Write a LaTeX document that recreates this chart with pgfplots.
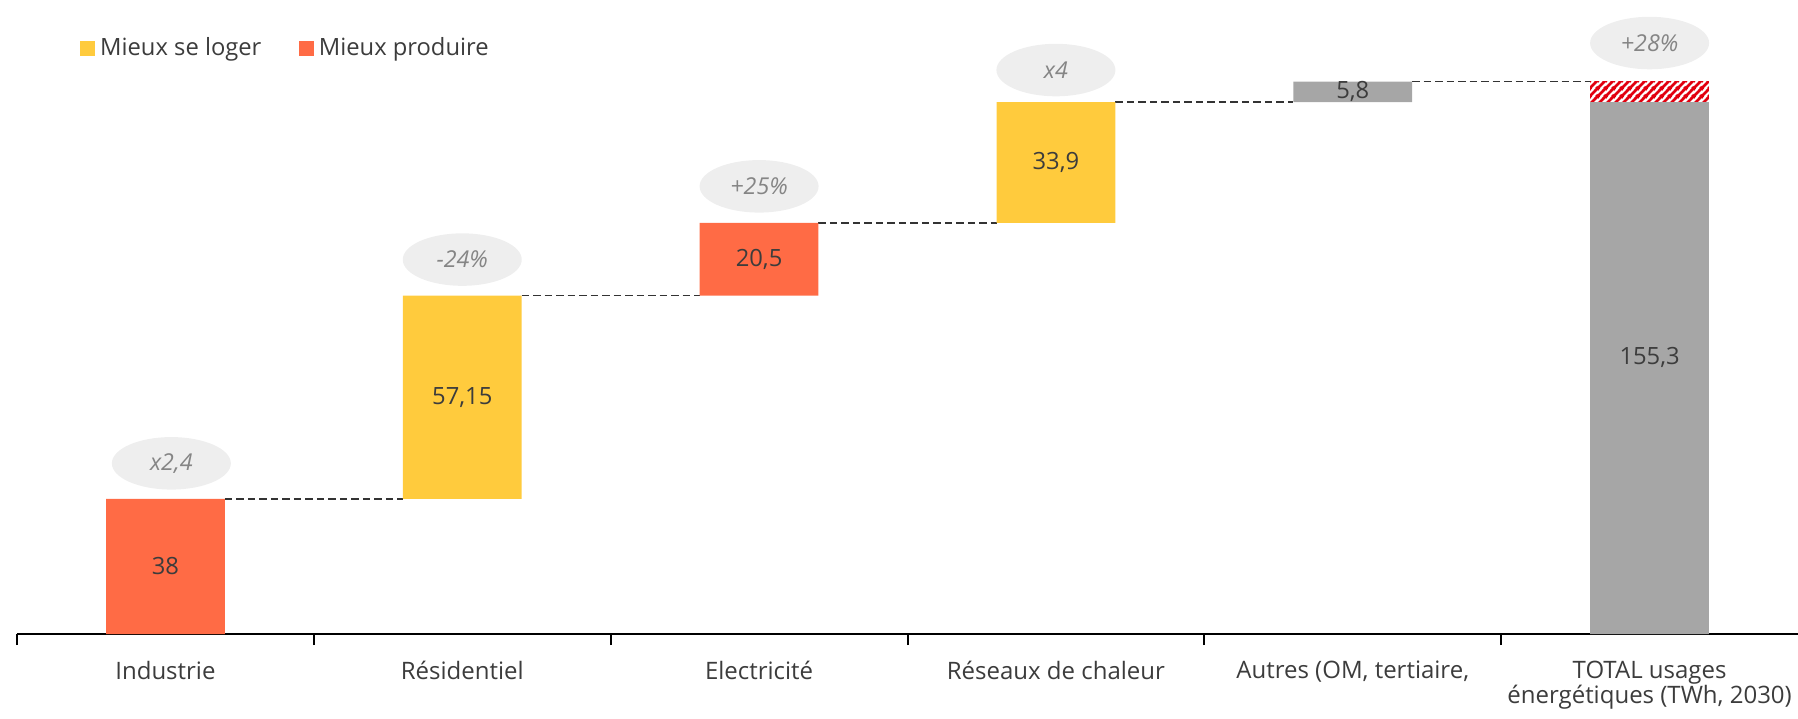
\documentclass[border=0pt]{standalone}
\usepackage{pgfplots}
\pgfplotsset{compat=1.18}
\usepackage{fontspec}
\setmainfont{Open Sans}
\usetikzlibrary{patterns,shapes.geometric}
\definecolor{cyel}{HTML}{FFCB3D}
\definecolor{cred}{HTML}{FF6B45}
\definecolor{cgrey}{HTML}{A6A6A6}
\definecolor{cell}{HTML}{EEEEEE}
\definecolor{chatch}{HTML}{E1000F}
\definecolor{ctxt}{HTML}{3C3C3C}
\definecolor{cdash}{HTML}{333333}
\definecolor{cit}{HTML}{858585}
\pgfdeclarepatternformonly{fatstripes}{\pgfpoint{0pt}{0pt}}{\pgfpoint{3pt}{3pt}}{\pgfpoint{3pt}{3pt}}{%
  \pgfsetlinewidth{1.15pt}%
  \pgfpathmoveto{\pgfpoint{-0.5pt}{-0.5pt}}\pgfpathlineto{\pgfpoint{3.5pt}{3.5pt}}%
  \pgfpathmoveto{\pgfpoint{-0.5pt}{2.5pt}}\pgfpathlineto{\pgfpoint{0.5pt}{3.5pt}}%
  \pgfpathmoveto{\pgfpoint{2.5pt}{-0.5pt}}\pgfpathlineto{\pgfpoint{3.5pt}{0.5pt}}%
  \pgfusepath{stroke}}
\tikzset{bub/.style={ellipse, fill=cell, minimum width=47.6pt, minimum height=21pt, inner sep=0pt, font=\fontsize{9.3}{11}\selectfont\itshape, text=cit},
  val/.style={font=\fontsize{9.5}{11}\selectfont, text=ctxt},
  conn/.style={cdash, line width=0.65pt, dash pattern=on 3pt off 1.6pt}}
\begin{document}
\begin{tikzpicture}
\useasboundingbox (-6.8pt,-33.6pt) rectangle (712.4pt,253.6pt);
\begin{axis}[
  scale only axis,
  width=712.4pt, height=253.6pt,
  xmin=-0.5, xmax=5.5, ymin=0, ymax=178.3,
  ybar stacked, bar width=0.4,
  axis x line*=bottom, axis y line=none,
  x axis line style={line width=0.9pt,black,-},
  xtick={0,1,2,3,4,5},
  xticklabels={Industrie,Résidentiel,Electricité,Réseaux de chaleur,{Autres (OM, tertiaire,},{TOTAL usages\\énergétiques (TWh, 2030)}},
  major tick length=0pt,
  xticklabel style={font=\fontsize{9.6}{10.2}\selectfont, text=ctxt, align=center, anchor=north, yshift=-7.2pt},
  extra x ticks={-0.5,0.5,1.5,2.5,3.5,4.5},
  extra x tick labels={},
  extra x tick style={major tick length=4.4pt, tick align=outside, tick style={line width=0.8pt,black}},
  legend style={at={(axis description cs:0.031,0.924)}, anchor=west, draw=none, fill=none,
    legend columns=-1, font=\fontsize{9.5}{11}\selectfont, text=ctxt,
    /tikz/every even column/.append style={column sep=13pt}},
  legend image code/.code={\fill[#1] (0pt,-3pt) rectangle (6pt,3pt);},
  clip=false,
]
% invisible base
\addplot[draw=none, fill=none, forget plot] coordinates {(0,0) (1,38) (2,95.15) (3,115.65) (4,149.55) (5,0)};
\addplot[draw=none, fill=cyel] coordinates {(0,0) (1,57.15) (2,0) (3,33.9) (4,0) (5,0)};
\addlegendentry{Mieux se loger}
\addplot[draw=none, fill=cred] coordinates {(0,38) (1,0) (2,20.5) (3,0) (4,0) (5,0)};
\addlegendentry{Mieux produire}
\addplot[draw=none, fill=cgrey, forget plot] coordinates {(0,0) (1,0) (2,0) (3,0) (4,5.8) (5,149.55)};
\addplot[draw=none, pattern=fatstripes, pattern color=chatch, forget plot] coordinates {(0,0) (1,0) (2,0) (3,0) (4,0) (5,5.8)};

% connectors
\draw[conn] (axis cs:0.2,38) -- (axis cs:0.8,38);
\draw[conn] (axis cs:1.2,95.15) -- (axis cs:1.8,95.15);
\draw[conn] (axis cs:2.2,115.65) -- (axis cs:2.8,115.65);
\draw[conn] (axis cs:3.2,149.55) -- (axis cs:3.8,149.55);
\draw[conn] (axis cs:4.2,155.35) -- (axis cs:4.8,155.35);

% value label positions
\coordinate (v0) at (axis cs:0,19);
\coordinate (v1) at (axis cs:1,66.6);
\coordinate (v2) at (axis cs:2,105.4);
\coordinate (v3) at (axis cs:3,132.6);
\coordinate (v4) at (axis cs:4,152.45);
\coordinate (v5) at (axis cs:5,77.7);

% ellipses
\node[bub] at (axis cs:0.02,48.0) {x2,4};
\node[bub] at (axis cs:1.0,105.3) {-24\%};
\node[bub] at (axis cs:2.0,125.9) {+25\%};
\node[bub] at (axis cs:3.0,158.6) {x4};
\node[bub] at (axis cs:5.0,166.2) {+28\%};
\end{axis}
\node[val] at (v0) {38};
\node[val] at (v1) {57,15};
\node[val] at (v2) {20,5};
\node[val] at (v3) {33,9};
\node[val] at (v4) {5,8};
\node[val] at (v5) {155,3};
\end{tikzpicture}
\end{document}
